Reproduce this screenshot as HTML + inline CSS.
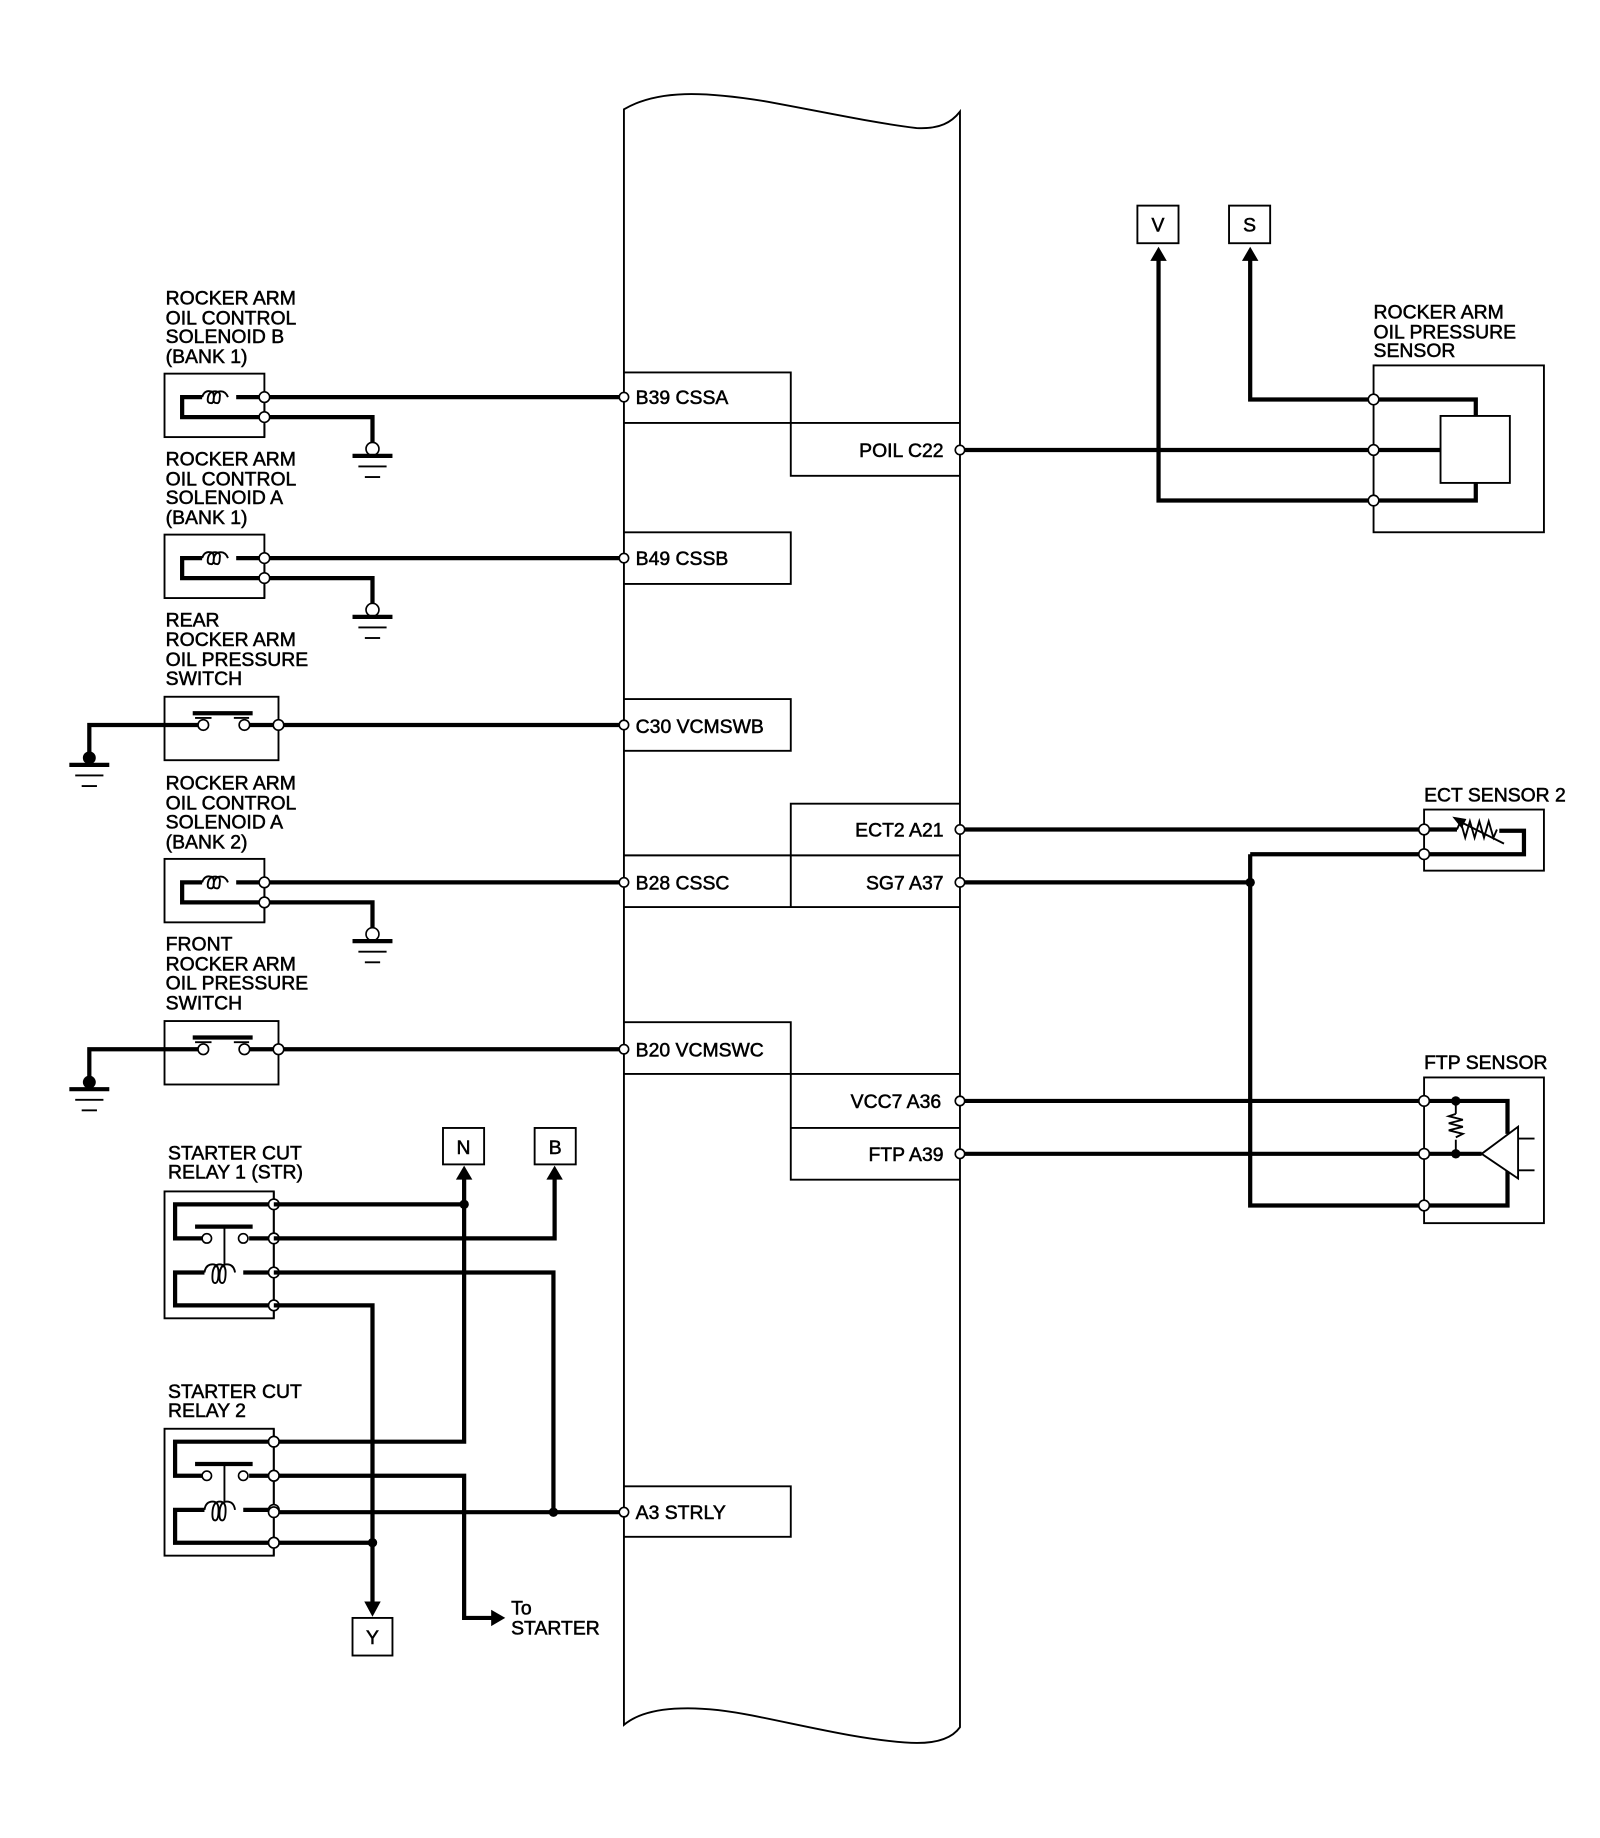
<!DOCTYPE html>
<html><head><meta charset="utf-8"><style>
html,body{margin:0;padding:0;background:#fff;}
svg{display:block}
text{font-family:"Liberation Sans",Arial,sans-serif;font-size:16.5px;fill:#000;stroke:#000;stroke-width:0.45}
.w{stroke:#000;stroke-width:3.6;fill:none;stroke-linejoin:miter}
.t{stroke:#000;stroke-width:1.6;fill:none}
.p{fill:#fff;stroke:#000;stroke-width:1.4}
.d{fill:#000}
</style></head><body>
<svg width="1600" height="1838" viewBox="0 0 1361.7 1564.3" xmlns="http://www.w3.org/2000/svg">
<defs>
<g id="gnd"><circle cx="0" cy="0" r="5.5" class="p"/><line x1="-17" y1="6" x2="17" y2="6" class="w"/><line x1="-12" y1="15" x2="12" y2="15" class="t"/><line x1="-6.5" y1="24" x2="6.5" y2="24" class="t"/></g>
<g id="gndf"><circle cx="0" cy="0" r="5.5" class="d"/><line x1="-17" y1="6" x2="17" y2="6" class="w"/><line x1="-12" y1="15" x2="12" y2="15" class="t"/><line x1="-6.5" y1="24" x2="6.5" y2="24" class="t"/></g>
</defs>

<!-- bus -->
<path d="M531,93 C560,76 600,78 650,86 C700,95 740,104 780,109 C800,110 810,104 817,95 L817,1470 C810,1480 795,1485 770,1483 C730,1480 690,1470 640,1460 C590,1450 550,1452 531,1468 Z" class="t" stroke-width="2"/>

<!-- connector boxes -->
<path class="t" d="M531,317 H673 V405 H817 M531,360 H817"/>
<path class="t" d="M531,453 H673 V497 H531"/>
<path class="t" d="M531,595 H673 V639 H531"/>
<path class="t" d="M817,684 H673 V772 M531,728 H817 M531,772 H817"/>
<path class="t" d="M531,870 H673 V1004 H817 M531,914 H817 M673,960 H817"/>
<path class="t" d="M531,1265 H673 V1308 H531"/>

<text x="541" y="344">B39 CSSA</text>
<text x="803" y="389" text-anchor="end">POIL C22</text>
<text x="541" y="481">B49 CSSB</text>
<text x="541" y="624">C30 VCMSWB</text>
<text x="803" y="712" text-anchor="end">ECT2 A21</text>
<text x="541" y="757">B28 CSSC</text>
<text x="803" y="757" text-anchor="end">SG7 A37</text>
<text x="541" y="899">B20 VCMSWC</text>
<text x="801" y="943" text-anchor="end">VCC7 A36</text>
<text x="803" y="988" text-anchor="end">FTP A39</text>
<text x="541" y="1293">A3 STRLY</text>

<!-- left labels -->
<text x="141" y="259">ROCKER ARM</text><text x="141" y="276">OIL CONTROL</text><text x="141" y="292">SOLENOID B</text><text x="141" y="309">(BANK 1)</text>
<text x="141" y="396">ROCKER ARM</text><text x="141" y="413">OIL CONTROL</text><text x="141" y="429">SOLENOID A</text><text x="141" y="446">(BANK 1)</text>
<text x="141" y="533">REAR</text><text x="141" y="550">ROCKER ARM</text><text x="141" y="567">OIL PRESSURE</text><text x="141" y="583">SWITCH</text>
<text x="141" y="672">ROCKER ARM</text><text x="141" y="689">OIL CONTROL</text><text x="141" y="705">SOLENOID A</text><text x="141" y="722">(BANK 2)</text>
<text x="141" y="809">FRONT</text><text x="141" y="826">ROCKER ARM</text><text x="141" y="842">OIL PRESSURE</text><text x="141" y="859">SWITCH</text>
<text x="143" y="987">STARTER CUT</text><text x="143" y="1003">RELAY 1 (STR)</text>
<text x="143" y="1190">STARTER CUT</text><text x="143" y="1206">RELAY 2</text>

<!-- solenoids -->
<g id="sol">
<rect x="140" y="318" width="85" height="54" class="t"/>
<path class="w" d="M225,338 H201 M172,338 H155 V355 H225"/>
<path class="t" d="M172,338 q2,-6 7,-5 q3,0 3,5 q0,6 -3,5 q-3,0 -2,-5 q1,-5 6,-5 q5,0 4,5 q0,6 -3,5 q-3,0 -2,-5 q1,-5 6,-5 q4,0 6,5"/>
<line x1="225" y1="338" x2="225" y2="372" class="t"/>
<path class="w" d="M225,338 H531 M225,355 H317 V377"/>
<circle cx="225" cy="338" r="4.5" class="p"/><circle cx="225" cy="355" r="4.5" class="p"/><circle cx="531" cy="338" r="4" class="p"/>
<use href="#gnd" x="317" y="382"/>
</g>
<use href="#sol" y="137"/>
<use href="#sol" y="413"/>

<!-- switches -->
<g id="sw">
<rect x="140" y="593" width="97" height="54" class="t"/>
<path class="w" d="M531,617 H237 M208,617 H237 M173,617 H76 V640"/>
<line x1="164" y1="607" x2="215" y2="607" class="w" stroke-width="2.5"/>
<line x1="166" y1="611" x2="180" y2="611" class="t"/><line x1="199" y1="611" x2="212" y2="611" class="t"/>
<circle cx="173" cy="617" r="4.5" class="p"/><circle cx="208" cy="617" r="4.5" class="p"/><circle cx="237" cy="617" r="4.5" class="p"/><circle cx="531" cy="617" r="4" class="p"/>
<use href="#gndf" x="76" y="645"/>
</g>
<use href="#sw" y="276"/>

<!-- relays -->
<g id="rel">
<rect x="140" y="1014" width="93" height="108" class="t"/>
<line x1="233" y1="1014" x2="233" y2="1122" class="t"/>
<path class="w" d="M233,1025 H149 V1054 H172 M212,1054 H233"/>
<path class="w" d="M233,1083 H207 M174,1083 H149 V1111 H233"/>
<line x1="166" y1="1044" x2="215" y2="1044" class="w" stroke-width="2.2"/>
<line x1="191" y1="1044" x2="191" y2="1076" class="t"/>
<circle cx="176" cy="1054" r="4" class="p"/><circle cx="207" cy="1054" r="4" class="p"/>
<path class="t" d="M174,1083 q1,-7 7,-7 q5,0 5,7 q0,9 -3,9 q-3,0 -2,-9 q1,-7 6,-7 q5,0 5,7 q0,9 -3,9 q-3,0 -2,-9 q1,-7 6,-7 q6,0 7,7"/>
<circle cx="233" cy="1025" r="4.5" class="p"/><circle cx="233" cy="1054" r="4.5" class="p"/><circle cx="233" cy="1083" r="4.5" class="p"/><circle cx="233" cy="1111" r="4.5" class="p"/>
</g>
<use href="#rel" y="202"/>

<!-- relay wiring -->
<path class="w" d="M233,1025 H395 M395,1000 V1227 H233"/>
<path class="w" d="M233,1054 H472 V1000"/>
<path class="w" d="M233,1083 H471 V1287"/>
<path class="w" d="M233,1287 H531"/>
<path class="w" d="M233,1111 H317 V1365 M233,1313 H317"/>
<path class="w" d="M233,1256 H395 V1377 H422"/>
<circle cx="233" cy="1227" r="4.5" class="p"/><circle cx="233" cy="1256" r="4.5" class="p"/><circle cx="233" cy="1287" r="4.5" class="p"/><circle cx="233" cy="1313" r="4.5" class="p"/>
<circle cx="395" cy="1025" r="4" class="d"/><circle cx="471" cy="1287" r="4" class="d"/><circle cx="317" cy="1313" r="4" class="d"/>
<circle cx="531" cy="1287" r="4" class="p"/>
<polygon points="395,992 388,1004 402,1004" class="d"/>
<polygon points="472,992 465,1004 479,1004" class="d"/>
<polygon points="317,1376 310,1363 324,1363" class="d"/>
<polygon points="430,1377 418,1370 418,1384" class="d"/>
<rect x="377" y="960" width="35" height="31" class="t"/><text x="394.5" y="982" text-anchor="middle">N</text>
<rect x="455" y="960" width="35" height="31" class="t"/><text x="472.5" y="982" text-anchor="middle">B</text>
<rect x="300" y="1377" width="34" height="32" class="t"/><text x="317" y="1399" text-anchor="middle">Y</text>
<text x="435" y="1374">To</text><text x="435" y="1391">STARTER</text>

<!-- rocker arm oil pressure sensor -->
<text x="1169" y="271">ROCKER ARM</text><text x="1169" y="288">OIL PRESSURE</text><text x="1169" y="304">SENSOR</text>
<rect x="1169" y="311" width="145" height="142" class="t"/>
<rect x="1226" y="354" width="59" height="57" class="t"/>
<path class="w" d="M817,383 H1226"/>
<path class="w" d="M1064,220 V340 H1256 V354"/>
<path class="w" d="M986,220 V426 H1256 V411"/>
<polygon points="986,210 979,222 993,222" class="d"/>
<polygon points="1064,210 1057,222 1071,222" class="d"/>
<rect x="968" y="175" width="35" height="32" class="t"/><text x="985.5" y="197" text-anchor="middle">V</text>
<rect x="1046" y="175" width="35" height="32" class="t"/><text x="1063.5" y="197" text-anchor="middle">S</text>
<circle cx="817" cy="383" r="4" class="p"/>
<circle cx="1169" cy="340" r="4.5" class="p"/><circle cx="1169" cy="383" r="4.5" class="p"/><circle cx="1169" cy="426" r="4.5" class="p"/>

<!-- ECT sensor 2 -->
<text x="1212" y="682">ECT SENSOR 2</text>
<rect x="1212" y="689" width="102" height="52" class="t"/>
<path class="w" d="M817,706 H1240 M1276,707 H1297 V727 H1064"/>
<path class="t" d="M1240,706 l3,-7 l4,14 l4,-14 l4,14 l4,-14 l4,14 l4,-14 l4,14 l3,-7"/>
<line x1="1240" y1="698" x2="1280" y2="718" class="t"/>
<polygon points="1236,695 1248,697 1244,705" class="d"/>
<path class="w" d="M817,751 H1064 M1064,727 V1026 H1212"/>
<circle cx="1064" cy="751" r="4" class="d"/>
<circle cx="817" cy="706" r="4" class="p"/><circle cx="817" cy="751" r="4" class="p"/>
<circle cx="1212" cy="706" r="4.5" class="p"/><circle cx="1212" cy="727" r="4.5" class="p"/>

<!-- FTP sensor -->
<text x="1212" y="910">FTP SENSOR</text>
<rect x="1212" y="917" width="102" height="124" class="t"/>
<path class="w" d="M817,937 H1283 V965 M1283,996 V1026 H1212"/>
<path class="w" d="M817,982 H1261"/>
<line x1="1239" y1="937" x2="1239" y2="948" class="t"/><line x1="1239" y1="970" x2="1239" y2="982" class="t"/>
<path class="t" d="M1239,948 l-6,2 l12,3 l-12,3 l12,3 l-12,3 l12,3 l-6,3"/>
<circle cx="1239" cy="937" r="4" class="d"/><circle cx="1239" cy="982" r="4" class="d"/>
<polygon points="1261,982 1292,959 1292,1003" fill="#fff" stroke="#000" stroke-width="1.6"/>
<line x1="1292" y1="969" x2="1306" y2="969" class="t"/><line x1="1292" y1="996" x2="1306" y2="996" class="t"/>
<circle cx="817" cy="937" r="4" class="p"/><circle cx="817" cy="982" r="4" class="p"/>
<circle cx="1212" cy="937" r="4.5" class="p"/><circle cx="1212" cy="982" r="4.5" class="p"/><circle cx="1212" cy="1026" r="4.5" class="p"/>
</svg>
</body></html>
